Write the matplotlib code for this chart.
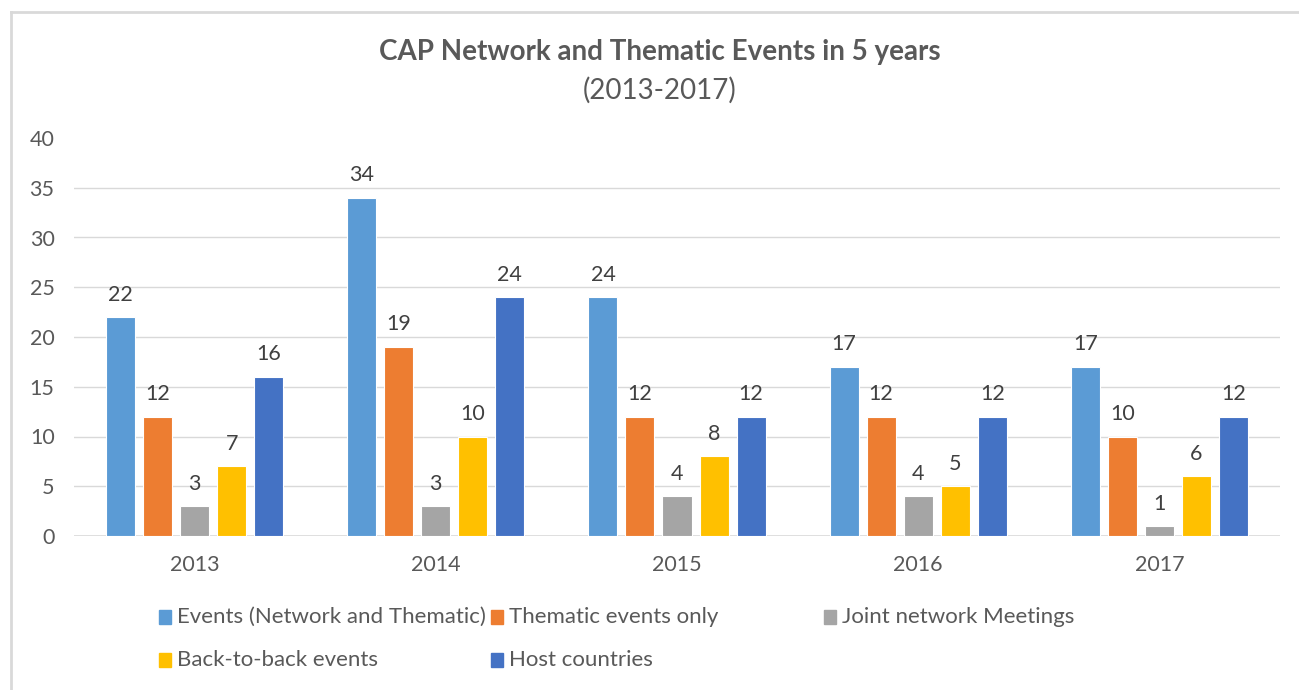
import matplotlib
matplotlib.use("Agg")
import matplotlib.pyplot as plt
from matplotlib.patches import Rectangle
from matplotlib.lines import Line2D
import numpy as np

years = ["2013", "2014", "2015", "2016", "2017"]
series_names = ["Events (Network and Thematic)", "Thematic events only",
                "Joint network Meetings", "Back-to-back events", "Host countries"]
events_all = [22, 34, 24, 17, 17]
thematic_only = [12, 19, 12, 12, 10]
joint_meetings = [3, 3, 4, 4, 1]
back_to_back = [7, 10, 8, 5, 6]
host_countries = [16, 24, 12, 12, 12]
series_values = [events_all, thematic_only, joint_meetings, back_to_back, host_countries]
colors = ["#5B9BD5", "#ED7D31", "#A5A5A5", "#FFC000", "#4472C4"]

plt.rcParams['font.family'] = ['Lato', 'DejaVu Sans']
W, H = 1299, 690
fig = plt.figure(figsize=(W / 100, H / 100), dpi=100)
ax = fig.add_axes([74 / W, 1 - 536 / H, (1280 - 74) / W, (536 - 138) / H])

x = np.arange(len(years))
bw = 29 / 241
stride = 37 / 241
for j, (vals, c) in enumerate(zip(series_values, colors)):
    pos = x + (j - 2) * stride
    bars = ax.bar(pos, vals, width=bw, color=c, edgecolor="white", linewidth=0.8,
                  label=series_names[j], zorder=3)
    for b, v in zip(bars, vals):
        ax.annotate(str(v), (b.get_x() + b.get_width() / 2, v), xytext=(0, 9),
                    textcoords="offset points", ha="center", va="bottom",
                    fontsize=15.5, color="#404040")

ax.set_xlim(-0.5, len(years) - 0.5)
ax.set_ylim(0, 40)
ax.set_yticks(range(0, 41, 5))
ax.set_xticks(x)
ax.set_xticklabels(years)
for y in range(5, 40, 5):
    ax.axhline(y, color="#D9D9D9", lw=1.0, zorder=1)
ax.axhline(0, color="#D9D9D9", lw=1.2, zorder=2)
for s in ax.spines.values():
    s.set_visible(False)
ax.tick_params(axis="both", length=0, labelsize=15.5, labelcolor="#595959")
ax.tick_params(axis="y", pad=14)
ax.tick_params(axis="x", pad=14)

fig.text(660 / W, 1 - 52 / H, "CAP Network and Thematic Events in 5 years",
         ha="center", va="center", fontsize=20, fontweight="bold", color="#595959")
fig.text(660 / W, 1 - 90 / H, "(2013-2017)", ha="center", va="center",
         fontsize=20, color="#595959")

# legend (manual, row-major like Excel)
col_x = [165, 497, 830]
row_y = [617, 660]
for k, name in enumerate(series_names):
    cx = col_x[k % 3]
    cy = row_y[k // 3]
    fig.add_artist(Rectangle(((cx - 6) / W, 1 - (cy + 7) / H), 12 / W, 14 / H,
                             transform=fig.transFigure, color=colors[k]))
    fig.text((cx + 12) / W, 1 - cy / H, name, ha="left", va="center",
             fontsize=16, color="#595959")

# frame lines
fig.add_artist(Line2D([11 / W, 11 / W], [0, 1 - 12 / H], transform=fig.transFigure,
                      color="#D9D9D9", lw=2))
fig.add_artist(Line2D([11 / W, 1], [1 - 12 / H, 1 - 12 / H], transform=fig.transFigure,
                      color="#D9D9D9", lw=2))

fig.savefig("out.png", dpi=100, facecolor="white")
